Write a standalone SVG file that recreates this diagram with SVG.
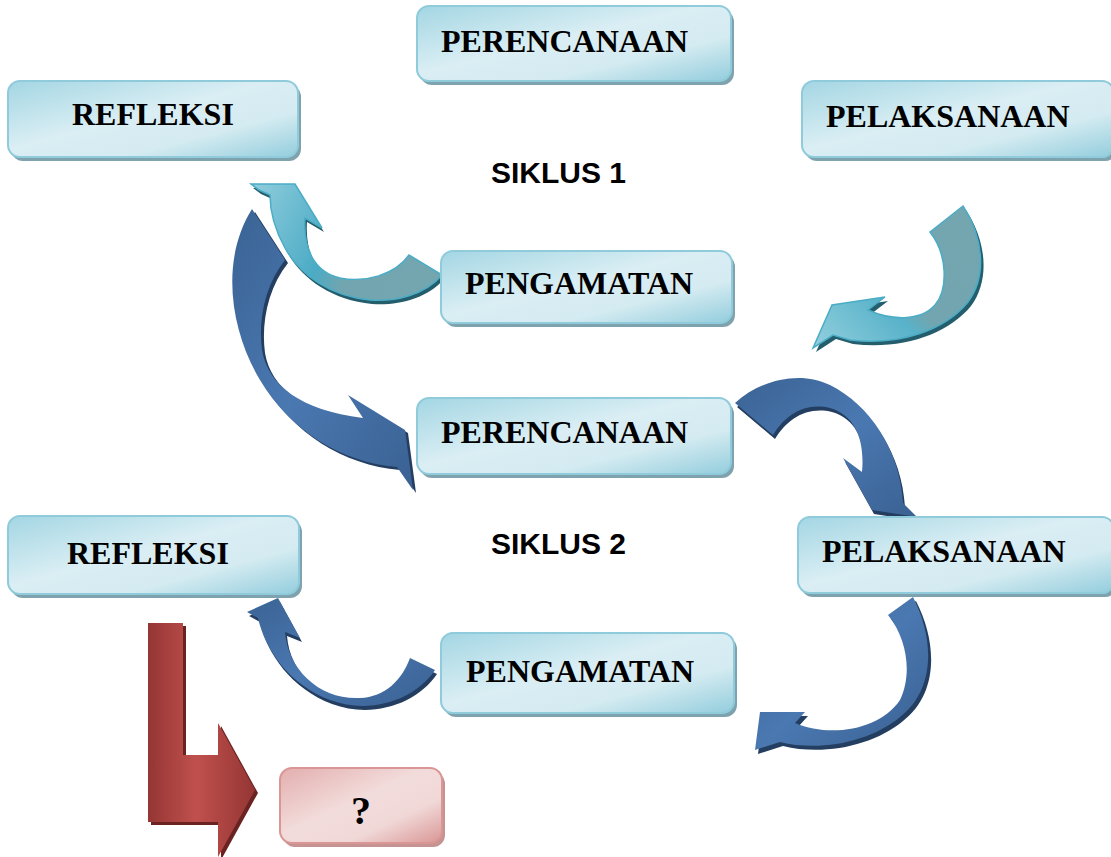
<svg xmlns="http://www.w3.org/2000/svg" width="1111" height="857" viewBox="0 0 1111 857">
<defs>
<linearGradient id="boxg" x1="0" y1="0" x2="1" y2="1">
<stop offset="0" stop-color="#a3d6e3"/>
<stop offset="0.45" stop-color="#daeef4"/>
<stop offset="0.7" stop-color="#d4ebf1"/>
<stop offset="1" stop-color="#93cddd"/>
</linearGradient>
<linearGradient id="redbox" x1="0" y1="0" x2="1" y2="1">
<stop offset="0" stop-color="#e3aeae"/>
<stop offset="0.45" stop-color="#f2dcdb"/>
<stop offset="0.7" stop-color="#f0d8d7"/>
<stop offset="1" stop-color="#d99694"/>
</linearGradient>
<linearGradient id="ltA" gradientUnits="userSpaceOnUse" x1="250" y1="184" x2="442" y2="280">
<stop offset="0" stop-color="#92cedd"/>
<stop offset="0.45" stop-color="#4babc5"/>
<stop offset="0.6" stop-color="#72a5af"/>
<stop offset="1" stop-color="#74a6b0"/>
</linearGradient>
<linearGradient id="ltB" gradientUnits="userSpaceOnUse" x1="965" y1="206" x2="815" y2="348">
<stop offset="0" stop-color="#74a6b0"/>
<stop offset="0.5" stop-color="#72a5af"/>
<stop offset="0.6" stop-color="#58b2c9"/>
<stop offset="1" stop-color="#92cfde"/>
</linearGradient>
<linearGradient id="dk" x1="0" y1="0" x2="1" y2="1">
<stop offset="0" stop-color="#3b6394"/>
<stop offset="0.5" stop-color="#4a78b1"/>
<stop offset="1" stop-color="#3a6192"/>
</linearGradient>
<linearGradient id="red" gradientUnits="userSpaceOnUse" x1="148" y1="0" x2="255" y2="0">
<stop offset="0" stop-color="#943634"/>
<stop offset="0.45" stop-color="#c0504d"/>
<stop offset="1" stop-color="#943634"/>
</linearGradient>
<style>
.box{fill:url(#boxg);stroke:#8fcbdb;stroke-width:2}
.sh{fill:#7fa3ae}
.lbl{font-family:"Liberation Serif","Times New Roman",serif;font-weight:bold;font-size:32px;fill:#000}
.sik{font-family:"Liberation Sans",Arial,sans-serif;font-weight:bold;font-size:30px;fill:#000}
.dkarrow{fill:url(#dk)}
.dksh{fill:#233e60}
.ltsh{fill:#245d6c}
</style>
</defs>

<g id="connectors">
<g id="arrowA">
<path class="ltsh" transform="translate(2,4)" d="M 251,184 L 295,184 L 322,228 L 305,218 C 303,250 315,272 340,278 C 365,283 395,275 409,255 L 442,275 C 425,295 395,302 370,300 C 330,296 300,275 285,248 C 275,230 270,210 270,195 L 259,190 Z"/>
<path fill="url(#ltA)" stroke="#4bacc6" stroke-width="1.5" d="M 251,184 L 295,184 L 322,228 L 305,218 C 303,250 315,272 340,278 C 365,283 395,275 409,255 L 442,275 C 425,295 395,302 370,300 C 330,296 300,275 285,248 C 275,230 270,210 270,195 L 259,190 Z"/>
</g>
<g id="arrowB">
<path class="ltsh" transform="translate(3,4)" d="M 930,232 L 963,206 C 985,240 986,278 968,302 C 945,330 900,346 850,340 L 833,335 L 813,348 L 832,305 L 885,297 L 868,310 C 890,320 920,322 935,305 C 948,290 948,255 930,232 Z"/>
<path fill="url(#ltB)" stroke="#4bacc6" stroke-width="1.5" d="M 930,232 L 963,206 C 985,240 986,278 968,302 C 945,330 900,346 850,340 L 833,335 L 813,348 L 832,305 L 885,297 L 868,310 C 890,320 920,322 935,305 C 948,290 948,255 930,232 Z"/>
</g>
<g id="arrowC">
<path class="dksh" transform="translate(3,3)" d="M 252,209 L 285,260 C 265,285 258,320 262,350 C 268,385 300,410 363,418 L 348,395 L 405,430 L 413,490 L 397,467 C 340,462 290,430 260,380 C 230,330 220,260 252,209 Z"/>
<path class="dkarrow" d="M 252,209 L 285,260 C 265,285 258,320 262,350 C 268,385 300,410 363,418 L 348,395 L 405,430 L 413,490 L 397,467 C 340,462 290,430 260,380 C 230,330 220,260 252,209 Z"/>
</g>
<g id="arrowD">
<path class="dksh" transform="translate(2,4)" d="M 735,403 C 760,380 800,370 830,385 C 870,405 900,450 903,503 L 917,517 L 872,510 L 843,458 L 862,472 C 865,440 855,415 830,408 C 805,402 785,415 773,435 Z"/>
<path class="dkarrow" d="M 735,403 C 760,380 800,370 830,385 C 870,405 900,450 903,503 L 917,517 L 872,510 L 843,458 L 862,472 C 865,440 855,415 830,408 C 805,402 785,415 773,435 Z"/>
</g>
<g id="arrowE">
<path class="dksh" transform="translate(3,4)" d="M 888,615 L 913,597 C 935,640 935,690 900,717 C 870,742 820,752 780,742 L 755,750 L 760,712 L 805,712 L 795,723 C 830,738 880,730 900,700 C 912,675 908,640 888,615 Z"/>
<path class="dkarrow" d="M 888,615 L 913,597 C 935,640 935,690 900,717 C 870,742 820,752 780,742 L 755,750 L 760,712 L 805,712 L 795,723 C 830,738 880,730 900,700 C 912,675 908,640 888,615 Z"/>
</g>
<g id="arrowF">
<path class="dksh" transform="translate(2,4)" d="M 410,658 L 435,670 C 415,700 370,715 330,700 C 290,685 265,650 258,618 L 247,612 L 278,598 L 300,638 L 285,632 C 288,670 320,700 360,698 C 385,697 402,680 410,658 Z"/>
<path class="dkarrow" d="M 410,658 L 435,670 C 415,700 370,715 330,700 C 290,685 265,650 258,618 L 247,612 L 278,598 L 300,638 L 285,632 C 288,670 320,700 360,698 C 385,697 402,680 410,658 Z"/>
</g>
<g id="arrowRed">
<path fill="#6b2321" transform="translate(3,3)" d="M 148,623 L 183,623 L 183,755 L 218,755 L 218,723 L 255,790 L 218,857 L 218,822 L 148,822 Z"/>
<path fill="url(#red)" d="M 148,623 L 183,623 L 183,755 L 218,755 L 218,723 L 255,790 L 218,857 L 218,822 L 148,822 Z"/>
</g>
</g>

<g id="perencanaan1">
<rect class="sh" x="420" y="10" width="314" height="75" rx="12"/>
<rect class="box" x="417" y="6" width="314" height="75" rx="12"/>
<text class="lbl" x="441" y="52">PERENCANAAN</text>
</g>
<g id="refleksi1">
<rect class="sh" x="11" y="85" width="290" height="76" rx="12"/>
<rect class="box" x="8" y="81" width="290" height="76" rx="12"/>
<text class="lbl" x="72" y="125">REFLEKSI</text>
</g>
<g id="pelaksanaan1">
<rect class="sh" x="805" y="85" width="312" height="76" rx="12"/>
<rect class="box" x="802" y="81" width="312" height="76" rx="12"/>
<text class="lbl" x="826" y="127">PELAKSANAAN</text>
</g>
<g id="siklus1">
<text class="sik" x="491" y="183">SIKLUS 1</text>
</g>
<g id="pengamatan1">
<rect class="sh" x="444" y="255" width="291" height="72" rx="12"/>
<rect class="box" x="441" y="251" width="291" height="72" rx="12"/>
<text class="lbl" x="465" y="294">PENGAMATAN</text>
</g>
<g id="perencanaan2">
<rect class="sh" x="420" y="402" width="314" height="76" rx="12"/>
<rect class="box" x="417" y="398" width="314" height="76" rx="12"/>
<text class="lbl" x="441" y="443">PERENCANAAN</text>
</g>
<g id="siklus2">
<text class="sik" x="491" y="554">SIKLUS 2</text>
</g>
<g id="refleksi2">
<rect class="sh" x="11" y="520" width="291" height="78" rx="12"/>
<rect class="box" x="8" y="516" width="291" height="78" rx="12"/>
<text class="lbl" x="67" y="564">REFLEKSI</text>
</g>
<g id="pelaksanaan2">
<rect class="sh" x="801" y="521" width="316" height="76" rx="12"/>
<rect class="box" x="798" y="517" width="316" height="76" rx="12"/>
<text class="lbl" x="822" y="562">PELAKSANAAN</text>
</g>
<g id="pengamatan2">
<rect class="sh" x="444" y="637" width="293" height="80" rx="12"/>
<rect class="box" x="441" y="633" width="293" height="80" rx="12"/>
<text class="lbl" x="466" y="682">PENGAMATAN</text>
</g>
<g id="question">
<rect fill="#c49392" x="283" y="772" width="162" height="75" rx="12"/>
<rect fill="url(#redbox)" stroke="#d99694" stroke-width="2" x="280" y="768" width="162" height="75" rx="12"/>
<text class="lbl" x="361" y="824" text-anchor="middle" style="font-size:40px">?</text>
</g>
</svg>
